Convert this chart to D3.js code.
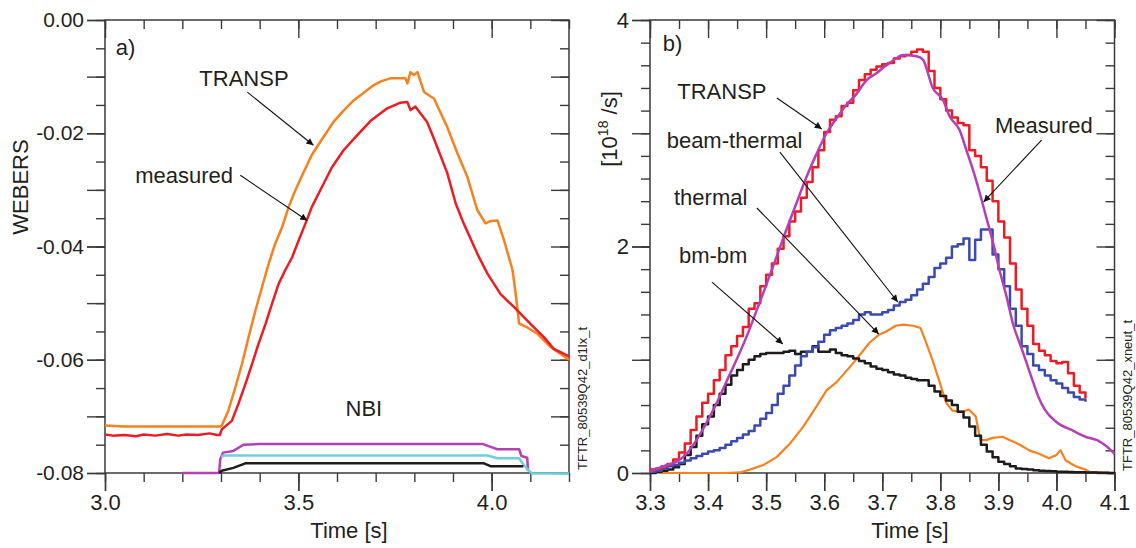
<!DOCTYPE html>
<html>
<head>
<meta charset="utf-8">
<script src="https://cdn.jsdelivr.net/npm/d3@7"></script>
<style>
  body { margin: 0; background: #fff; }
  text { font-family: "Liberation Sans", Arial, sans-serif; fill: #231f20; }
</style>
</head>
<body>
<svg id="chart" width="1136" height="548"></svg>
<script>
// ---------- Panel a: poloidal flux (webers) vs time ----------
const fluxTransp = [
  [3.00,-0.0716],[3.05,-0.0718],[3.15,-0.0718],[3.297,-0.0718],[3.302,-0.0716],[3.319,-0.0690],
  [3.337,-0.0649],[3.354,-0.0608],[3.371,-0.0561],[3.389,-0.0513],[3.406,-0.0472],[3.423,-0.0431],
  [3.440,-0.0395],[3.458,-0.0366],[3.475,-0.0330],[3.492,-0.0301],[3.510,-0.0274],[3.535,-0.0238],
  [3.560,-0.0212],[3.591,-0.0180],[3.617,-0.0160],[3.643,-0.0142],[3.670,-0.0128],[3.695,-0.0115],
  [3.715,-0.0108],[3.738,-0.0103],[3.777,-0.0103],[3.782,-0.0112],[3.790,-0.0092],[3.799,-0.0097],
  [3.808,-0.0092],[3.825,-0.0127],[3.851,-0.0139],[3.885,-0.0189],[3.911,-0.0235],[3.937,-0.0277],
  [3.963,-0.0336],[3.984,-0.0359],[3.997,-0.0355],[4.015,-0.0354],[4.032,-0.0389],[4.054,-0.0442],
  [4.062,-0.0483],[4.071,-0.0536],[4.092,-0.0543],[4.118,-0.0554],[4.153,-0.0578],[4.200,-0.0600]
];
const fluxMeasured = [
  [3.00,-0.0732],[3.02,-0.0734],[3.05,-0.0733],[3.08,-0.0735],[3.10,-0.0732],[3.13,-0.0734],
  [3.16,-0.0731],[3.19,-0.0734],[3.21,-0.0732],[3.24,-0.0733],[3.27,-0.0730],[3.29,-0.0733],
  [3.297,-0.0733],[3.302,-0.0723],[3.328,-0.0708],[3.345,-0.0678],[3.363,-0.0643],[3.380,-0.0608],
  [3.397,-0.0572],[3.415,-0.0537],[3.432,-0.0501],[3.449,-0.0466],[3.466,-0.0442],[3.484,-0.0419],
  [3.501,-0.0389],[3.518,-0.0360],[3.535,-0.0330],[3.561,-0.0295],[3.587,-0.0260],[3.617,-0.0230],
  [3.650,-0.0205],[3.687,-0.0178],[3.730,-0.0156],[3.764,-0.0146],[3.782,-0.0145],[3.790,-0.0159],
  [3.803,-0.0153],[3.833,-0.0180],[3.851,-0.0210],[3.885,-0.0270],[3.907,-0.0324],[3.928,-0.0360],
  [3.963,-0.0413],[3.989,-0.0448],[4.023,-0.0484],[4.058,-0.0507],[4.101,-0.0537],[4.135,-0.0560],
  [4.161,-0.0581],[4.200,-0.0594]
];
// neutral beam power traces (drawn on the flux axis near the bottom)
const nbiSourcesA = [
  [3.20,-0.0800],[3.295,-0.0800],[3.298,-0.0776],[3.305,-0.0764],[3.332,-0.0761],[3.358,-0.0750],
  [3.40,-0.0749],[3.978,-0.0749],[3.99,-0.0752],[4.015,-0.0758],[4.071,-0.0758],[4.077,-0.0770],
  [4.092,-0.0773],[4.094,-0.0797]
];
const nbiSourcesB = [
  [3.300,-0.0771],[3.31,-0.0769],[3.989,-0.0769],[4.015,-0.0774],[4.071,-0.0774],[4.079,-0.0782],
  [4.092,-0.0793],[4.105,-0.0801],[4.20,-0.0801]
];
const nbiSourcesC = [
  [3.295,-0.0800],[3.302,-0.0796],[3.332,-0.0791],[3.363,-0.0783],[3.980,-0.0783],[3.997,-0.0788],
  [4.082,-0.0788]
];

// ---------- Panel b: neutron rate (1e18 /s) vs time ----------
const stepTimes = [
  3.30,3.31,3.32,3.33,3.34,3.35,3.36,3.37,3.38,3.39,3.40,3.41,3.42,3.43,3.44,3.45,3.46,3.47,3.48,3.49,
  3.50,3.51,3.52,3.53,3.54,3.55,3.56,3.57,3.58,3.59,3.60,3.61,3.62,3.63,3.64,3.65,3.66,3.67,3.68,3.69,
  3.70,3.71,3.72,3.73,3.74,3.75,3.76,3.77,3.78,3.79,3.80,3.81,3.82,3.83,3.84,3.85,3.86,3.87,3.88,3.89,
  3.90,3.91,3.92,3.93,3.94,3.95,3.96,3.97,3.98,3.99,4.00,4.01,4.02,4.03,4.04,4.05,4.06,4.07,4.08,4.09,4.10
];
const neutTransp = [
  0.03,0.04,0.06,0.08,0.12,0.18,0.26,0.38,0.50,0.62,0.70,0.82,0.91,1.04,1.12,1.21,1.29,1.45,1.50,1.65,
  1.75,1.85,1.98,2.09,2.22,2.31,2.43,2.57,2.70,2.85,3.01,3.12,3.15,3.24,3.27,3.38,3.47,3.52,3.56,3.59,
  3.61,3.62,3.66,3.68,3.69,3.72,3.74,3.72,3.55,3.40,3.30,3.20,3.14,3.09,3.07,2.85,2.80,2.70,2.58,2.40,
  2.22,2.08,1.85,1.62,1.45,1.30,1.14,1.08,1.04,0.99,0.97,0.98,0.88,0.77,0.71,0.66
];
const neutBeamThermal = [
  0.01,0.02,0.04,0.06,0.07,0.09,0.11,0.13,0.15,0.17,0.19,0.20,0.22,0.25,0.28,0.31,0.34,0.37,0.42,0.48,
  0.53,0.60,0.70,0.77,0.86,0.95,1.03,1.07,1.11,1.16,1.22,1.26,1.28,1.30,1.32,1.35,1.40,1.42,1.40,1.40,
  1.42,1.44,1.48,1.51,1.53,1.57,1.62,1.67,1.73,1.81,1.85,1.90,2.00,2.02,2.07,1.88,2.06,2.15,2.15,1.93,
  1.80,1.65,1.45,1.30,1.12,1.05,0.95,0.91,0.86,0.82,0.79,0.75,0.71,0.67,0.65,0.63
];
const neutBmBm = [
  0.00,0.01,0.02,0.03,0.05,0.08,0.16,0.23,0.33,0.43,0.50,0.60,0.70,0.78,0.86,0.91,0.96,1.00,1.03,1.05,
  1.06,1.06,1.06,1.07,1.08,1.05,1.07,1.07,1.12,1.07,1.07,1.09,1.06,1.04,1.03,1.01,0.99,0.97,0.94,0.92,
  0.91,0.89,0.87,0.86,0.84,0.83,0.82,0.82,0.77,0.72,0.68,0.64,0.60,0.54,0.49,0.41,0.33,0.25,0.19,0.14,
  0.10,0.08,0.06,0.04,0.035,0.03,0.025,0.02,0.018,0.015,0.01,0.01,0.008,0.007,0.006,0.005,0.004,0.003,0.002,0.001,0.0
];
const neutThermal = [
  [3.30,0.0],[3.43,0.0],[3.455,0.005],[3.472,0.03],[3.495,0.07],[3.518,0.14],[3.541,0.26],[3.564,0.41],
  [3.587,0.59],[3.604,0.73],[3.621,0.80],[3.650,0.97],[3.678,1.15],[3.694,1.22],[3.707,1.25],[3.723,1.30],
  [3.736,1.31],[3.753,1.30],[3.766,1.28],[3.775,1.16],[3.787,0.99],[3.799,0.80],[3.805,0.70],[3.810,0.62],
  [3.821,0.55],[3.838,0.54],[3.849,0.56],[3.861,0.50],[3.869,0.29],[3.879,0.29],[3.890,0.31],[3.907,0.32],
  [3.920,0.29],[3.937,0.25],[3.953,0.20],[3.970,0.17],[3.987,0.13],[4.000,0.16],[4.007,0.20],[4.016,0.11],
  [4.033,0.06],[4.050,0.03],[4.057,0.01],[4.10,0.0]
];
const neutMeasured = [
  [3.30,0.01],[3.323,0.06],[3.346,0.10],[3.363,0.17],[3.380,0.29],[3.397,0.44],[3.415,0.62],[3.432,0.81],
  [3.449,1.00],[3.466,1.20],[3.484,1.44],[3.501,1.67],[3.518,1.91],[3.535,2.15],[3.552,2.38],[3.570,2.62],
  [3.587,2.82],[3.604,3.00],[3.621,3.13],[3.638,3.25],[3.656,3.35],[3.673,3.47],[3.690,3.53],[3.707,3.60],
  [3.724,3.66],[3.736,3.69],[3.759,3.68],[3.770,3.65],[3.787,3.40],[3.805,3.29],[3.816,3.15],[3.833,3.03],
  [3.845,2.85],[3.856,2.68],[3.868,2.47],[3.879,2.26],[3.891,2.03],[3.902,1.79],[3.914,1.56],[3.925,1.32],
  [3.94,1.10],[3.95,0.95],[3.96,0.80],[3.97,0.66],[3.98,0.56],[4.00,0.45],[4.03,0.37],[4.05,0.32],
  [4.07,0.29],[4.085,0.24],[4.10,0.17]
];

// ---------- Tick labels ----------
const fluxXTicks = [3.0, 3.5, 4.0];
const fluxXLabels = ["3.0", "3.5", "4.0"];
const fluxYTicks = [0, -0.02, -0.04, -0.06, -0.08];
const fluxYLabels = ["0.00", "-0.02", "-0.04", "-0.06", "-0.08"];
const neutXTicks = [3.3, 3.4, 3.5, 3.6, 3.7, 3.8, 3.9, 4.0, 4.1];
const neutXLabels = ["3.3", "3.4", "3.5", "3.6", "3.7", "3.8", "3.9", "4.0", "4.1"];
const neutYTicks = [0, 2, 4];
const neutYLabels = ["0", "2", "4"];

// ---------- Colours ----------
const C = {
  orange: "#f7801f", red: "#ec1c24", magenta: "#b440b4", cyan: "#6fd0db",
  black: "#1f1b1c", blue: "#3a4aae", axis: "#3a3a3a"
};

const svg = d3.select("#chart");
const yTop = 20, yBot = 473;

svg.append("defs").append("marker")
  .attr("id", "arrow").attr("viewBox", "0 0 10 10")
  .attr("refX", 10).attr("refY", 5)
  .attr("markerWidth", 9).attr("markerHeight", 7)
  .attr("markerUnits", "userSpaceOnUse")
  .attr("orient", "auto")
  .append("path").attr("d", "M0,0 L10,5 L0,10 Z").attr("fill", "#111");

function frame(xs, ys, o) {
  const g = svg.append("g");
  const [x0, x1] = xs.range();
  const layer = (axis, tf, vals, size, labels) => {
    const a = axis.tickValues(vals).tickSize(size).tickPadding(3)
      .tickFormat(labels ? ((d, i) => labels[i]) : "");
    const s = g.append("g").attr("transform", tf).call(a);
    s.select(".domain").remove();
    s.selectAll("line").attr("stroke", C.axis).attr("stroke-width", 1.4);
    return s;
  };
  // bottom
  layer(d3.axisBottom(xs), `translate(0,${yBot})`, o.xMinor, 9);
  layer(d3.axisBottom(xs), `translate(0,${yBot})`, o.xMajor, 18);
  layer(d3.axisBottom(xs), `translate(0,${yBot})`, o.xLab, 18, o.xLabText)
    .selectAll("text").attr("font-size", 22);
  // top (inward)
  layer(d3.axisTop(xs), `translate(0,${yTop})`, o.xMinor, -9);
  layer(d3.axisTop(xs), `translate(0,${yTop})`, o.xMajor, -18);
  // left
  layer(d3.axisLeft(ys), `translate(${x0},0)`, o.yMinor, 9);
  layer(d3.axisLeft(ys), `translate(${x0},0)`, o.yMajor, 18);
  layer(d3.axisLeft(ys), `translate(${x0},0)`, o.yLab, 18, o.yLabText)
    .selectAll("text").attr("font-size", o.yFont);
  // right (inward)
  layer(d3.axisRight(ys), `translate(${x1},0)`, o.yMinor, -9);
  layer(d3.axisRight(ys), `translate(${x1},0)`, o.yMajor, -18);
  g.append("rect").attr("x", x0).attr("y", yTop)
    .attr("width", x1 - x0).attr("height", yBot - yTop)
    .attr("fill", "none").attr("stroke", C.axis).attr("stroke-width", 1.5);
}

function drawLine(xs, ys, data, color, curve, width) {
  svg.append("path").datum(data)
    .attr("fill", "none").attr("stroke", color)
    .attr("stroke-width", width || 2.5)
    .attr("stroke-linejoin", "round")
    .attr("d", d3.line().x(d => xs(d[0])).y(d => ys(d[1])).curve(curve || d3.curveLinear));
}

function label(xs, ys, t, v, str, size) {
  return svg.append("text").attr("x", xs(t)).attr("y", ys(v))
    .attr("font-size", size || 22).text(str);
}
function arrow(xs, ys, a) {
  svg.append("line")
    .attr("x1", xs(a[0])).attr("y1", ys(a[1]))
    .attr("x2", xs(a[2])).attr("y2", ys(a[3]))
    .attr("stroke", "#111").attr("stroke-width", 1.1)
    .attr("marker-end", "url(#arrow)");
}

// ================= Panel a =================
const xa = d3.scaleLinear().domain([3.0, 4.2]).range([105, 569]);
const ya = d3.scaleLinear().domain([-0.08, 0]).range([yBot, yTop]);

frame(xa, ya, {
  xMinor: d3.range(0, 13).map(i => 3.0 + i * 0.1),
  xMajor: fluxXTicks, xLab: fluxXTicks, xLabText: fluxXLabels,
  yMinor: d3.range(0, 17).map(i => -i * 0.005),
  yMajor: d3.range(0, 9).map(i => -i * 0.01),
  yLab: fluxYTicks, yLabText: fluxYLabels, yFont: 21
});

drawLine(xa, ya, nbiSourcesA, C.magenta, d3.curveLinear, 2.5);
drawLine(xa, ya, nbiSourcesB, C.cyan, d3.curveLinear, 2.5);
drawLine(xa, ya, nbiSourcesC, C.black, d3.curveLinear, 2.5);
drawLine(xa, ya, fluxTransp, C.orange);
drawLine(xa, ya, fluxMeasured, C.red);

label(xa, ya, 3.028, -0.0062, "a)");
label(xa, ya, 3.244, -0.01168, "TRANSP");
label(xa, ya, 3.078, -0.02885, "measured");
label(xa, ya, 3.622, -0.0699, "NBI");
arrow(xa, ya, [3.368, -0.01274, 3.539, -0.02212]);
arrow(xa, ya, [3.350, -0.02743, 3.523, -0.0354]);

svg.append("text").attr("transform", "translate(28,187) rotate(-90)")
  .attr("text-anchor", "middle").attr("font-size", 22).text("WEBERS");
svg.append("text").attr("x", 349).attr("y", 538)
  .attr("text-anchor", "middle").attr("font-size", 22).text("Time [s]");
svg.append("text").attr("transform", "translate(587,470) rotate(-90)")
  .attr("font-size", 13).text("TFTR_80539Q42_d1lx_t");

// ================= Panel b =================
const xb = d3.scaleLinear().domain([3.3, 4.1]).range([650, 1114.5]);
const yb = d3.scaleLinear().domain([0, 4]).range([yBot, yTop]);

frame(xb, yb, {
  xMinor: d3.range(0, 17).map(i => 3.3 + i * 0.05),
  xMajor: neutXTicks, xLab: neutXTicks, xLabText: neutXLabels,
  yMinor: d3.range(0, 21).map(i => i * 0.2),
  yMajor: [0, 1, 2, 3, 4],
  yLab: neutYTicks, yLabText: neutYLabels, yFont: 22
});

const zipT = vals => vals.map((v, i) => [stepTimes[i], v]);
drawLine(xb, yb, neutThermal, C.orange, d3.curveLinear, 2.2);
drawLine(xb, yb, zipT(neutBmBm), C.black, d3.curveStepAfter, 2.5);
drawLine(xb, yb, zipT(neutBeamThermal), C.blue, d3.curveStepAfter, 2.5);
drawLine(xb, yb, zipT(neutTransp), C.red, d3.curveStepAfter, 2.5);
drawLine(xb, yb, neutMeasured, C.magenta, d3.curveMonotoneX, 2.5);

label(xb, yb, 3.3218, 3.726, "b)");
label(xb, yb, 3.347, 3.302, "TRANSP");
label(xb, yb, 3.3287, 2.867, "beam-thermal");
label(xb, yb, 3.3413, 2.366, "thermal");
label(xb, yb, 3.3499, 1.857, "bm-bm");
label(xb, yb, 3.894, 3.0, "Measured");
arrow(xb, yb, [3.5185, 3.311, 3.5959, 3.038]);
arrow(xb, yb, [3.5237, 2.834, 3.7267, 1.510]);
arrow(xb, yb, [3.4841, 2.340, 3.6940, 1.227]);
arrow(xb, yb, [3.4067, 1.686, 3.5288, 1.139]);
arrow(xb, yb, [3.9744, 2.940, 3.8746, 2.393]);

const yt = svg.append("text").attr("transform", "translate(617,129) rotate(-90)")
  .attr("text-anchor", "middle").attr("font-size", 22);
yt.append("tspan").text("[10");
yt.append("tspan").attr("font-size", 14).attr("dy", -9).text("18");
yt.append("tspan").attr("dy", 9).text(" /s]");
svg.append("text").attr("x", 910).attr("y", 538)
  .attr("text-anchor", "middle").attr("font-size", 22).text("Time [s]");
svg.append("text").attr("transform", "translate(1132,471) rotate(-90)")
  .attr("font-size", 13).text("TFTR_80539Q42_xneut_t");
</script>
</body>
</html>
